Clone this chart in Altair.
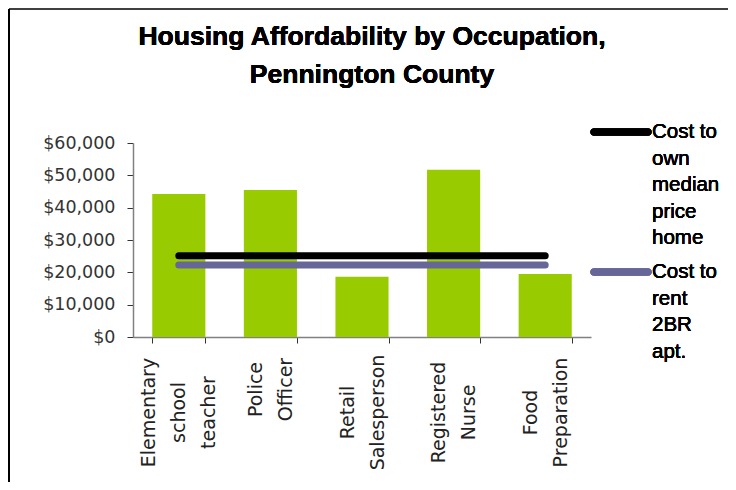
import altair as alt
import pandas as pd

occupations = ["Elementary school teacher", "Police Officer", "Retail Salesperson",
               "Registered Nurse", "Food Preparation"]
wages = [44200, 45500, 18600, 51700, 19500]
own_cost = [25100, 25100, 25100, 25100, 25100]
rent_cost = [22300, 22300, 22300, 22300, 22300]
series_names = ["Cost to own median price home", "Cost to rent 2BR apt."]
legend_lines = [["Cost to", "own", "median", "price", "home"],
                ["Cost to", "rent", "2BR", "apt."]]
y_ticks = [0, 10000, 20000, 30000, 40000, 50000, 60000]
title_lines = ["Housing Affordability by Occupation,", "Pennington County"]

W, H = 458, 194
PL, PT, PR, PB = 125, 135, 137, 145

bars_df = pd.DataFrame({"occupation": occupations, "wage": wages})
lines_df = pd.DataFrame({
    "occupation": occupations * 2,
    "series": [series_names[0]] * len(occupations) + [series_names[1]] * len(occupations),
    "value": own_cost + rent_cost,
})

# labels whose longest word is short sit closer to the axis (centred on longest line)
short_labels = [o for o in occupations if max(len(w) for w in o.split(" ")) < 9]
short_test = "indexof([" + ",".join("'" + s + "'" for s in short_labels) + "], datum.value) >= 0"

xscale = alt.Scale(domain=occupations, paddingInner=0.42, paddingOuter=0.21)
yscale = alt.Scale(domain=[0, 60000])

x_axis = alt.Axis(title=None, labelExpr="split(datum.label, ' ')", labelAngle=270,
                  labelAlign="center", labelBaseline="middle",
                  labelPadding={"condition": {"test": short_test, "value": 46}, "value": 69},
                  labelOffset={"condition": {"test": "length(split(datum.value, ' ')) == 3",
                                             "value": -30}, "value": -15},
                  labelFont="DejaVu Sans", labelFontSize=19, labelColor="#222222",
                  labelLineHeight=30, tickBand="extent", tickSize=6,
                  tickColor="#333333", domainColor="#808080", domainWidth=1.5,
                  labelLimit=300, labelOverlap=False)
y_axis = alt.Axis(title=None, values=y_ticks, format="$,.0f", labelFont="DejaVu Sans",
                  labelFontSize=17.5, labelColor="#333333", labelPadding=12,
                  tickSize=6, tickColor="#333333", domainColor="#808080",
                  domainWidth=1.5, grid=False, labelOverlap=False)

bars = alt.Chart(bars_df).mark_bar(color="#99CC00").encode(
    x=alt.X("occupation:N", sort=occupations, scale=xscale, axis=x_axis),
    y=alt.Y("wage:Q", scale=yscale, axis=y_axis),
)

lines = alt.Chart(lines_df).mark_line(strokeWidth=7, strokeCap="round").encode(
    x=alt.X("occupation:N", sort=occupations, scale=xscale, axis=x_axis),
    y=alt.Y("value:Q", scale=yscale, axis=y_axis),
    color=alt.Color("series:N", scale=alt.Scale(domain=series_names,
                                                range=["#000000", "#666699"]),
                    legend=None),
    detail="series:N",
)

legend_layers = []
sym_colors = ["#000000", "#666699"]
sym_y = [-11, 129]
for i in range(2):
    legend_layers.append(
        alt.Chart(bars_df).mark_rule(strokeWidth=7, strokeCap="round",
                                     color=sym_colors[i]).encode(
            x=alt.value(461), x2=alt.value(515), y=alt.value(sym_y[i]))
    )
    legend_layers.append(
        alt.Chart(bars_df).mark_text(align="left", baseline="middle", font="Liberation Sans",
                                     fontSize=20.5, fontWeight="normal", lineHeight=26.5,
                                     color="#000000").encode(
            x=alt.value(519), y=alt.value(sym_y[i]), text=alt.value(legend_lines[i]))
    )

title = alt.Chart(bars_df).mark_text(align="center", baseline="alphabetic",
                                     font="Liberation Sans", fontSize=26.5, fontWeight="bold",
                                     lineHeight=38, color="#000000").encode(
    x=alt.value(239), y=alt.value(-98), text=alt.value(title_lines))

border_top = alt.Chart(bars_df).mark_rule(color="#404040", strokeWidth=2).encode(
    x=alt.value(-PL + 1), x2=alt.value(W + PR), y=alt.value(-PT + 1))
border_left = alt.Chart(bars_df).mark_rule(color="#000000", strokeWidth=2).encode(
    x=alt.value(-PL + 1), y=alt.value(-PT + 1), y2=alt.value(H + PB))

chart = alt.layer(bars, lines, *legend_layers, title, border_top, border_left).properties(
    width=W, height=H,
    autosize=alt.AutoSizeParams(type="none"),
    padding={"left": PL, "top": PT, "right": PR, "bottom": PB},
    background="white",
).configure_view(stroke=None)

chart.save("out.html", embed_options={"renderer": "svg", "actions": False})
